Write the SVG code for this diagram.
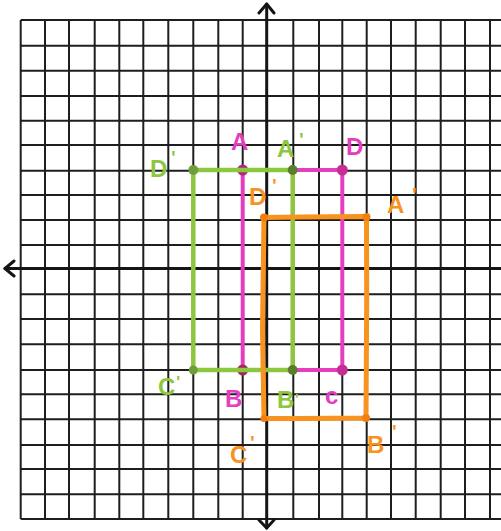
<svg xmlns="http://www.w3.org/2000/svg" width="501" height="531" viewBox="0 0 501 531">
<style>
.grid{stroke:#1e1e1e;stroke-width:2;fill:none}
.axis{stroke:#151515;stroke-width:3;fill:none;stroke-linecap:round;stroke-linejoin:round}
.pk{stroke:#e43dbf;stroke-width:4;fill:none;stroke-linecap:round}
.gr{stroke:#8dc63f;stroke-width:4.5;fill:none;stroke-linecap:round}
.or{stroke:#f7931e;stroke-width:5;fill:none;stroke-linecap:round;stroke-linejoin:round}
.lbl{font-family:"Liberation Sans",Arial,sans-serif;font-weight:bold;font-size:24px}
.lp{fill:#e43dbf}.lg{fill:#8dc63f}.lo{fill:#f7931e}
</style>
<rect width="501" height="531" fill="#ffffff"/>
<g id="grid" class="grid">
<path d="M20.7,20V519 M45,20V519 M69,20V519 M94.7,20V519 M119.3,20V519 M143.3,20V519 M168.3,20V519 M193.3,20V519 M218.3,20V519 M242.7,20V519 M293.3,20V519 M319,20V519 M342.3,20V519 M366.7,20V519 M391,20V519 M415.7,20V519 M440.7,20V519 M465,20V519 M490,20V519"/>
<path d="M20.7,20H501 M20.7,45.7H501 M20.7,70.7H501 M20.7,96H501 M20.7,120.7H501 M20.7,145H501 M20.7,170.7H501 M20.7,195H501 M20.7,220H501 M20.7,245H501 M20.7,294.3H501 M20.7,319H501 M20.7,344.3H501 M20.7,370H501 M20.7,394.3H501 M20.7,419.3H501 M20.7,445H501 M20.7,469H501 M20.7,494.3H501 M20.7,519H501"/>
</g>
<g id="axes" class="axis">
<path d="M266.7,4V528 M5,268.5H501"/>
<path d="M259,13 L266.7,4 L274,13 M14,261 L5,268.5 L14,276 M259,520 L266.7,528 L274,520"/>
</g>
<g id="rect-ABCD">
<rect class="pk" x="242.7" y="170" width="99.6" height="200"/>
<circle cx="242.7" cy="170" r="5.5" fill="#b0287a"/>
<circle cx="342.3" cy="170" r="5.5" fill="#c52f95"/>
<circle cx="242.7" cy="370" r="5.5" fill="#a0285f"/>
<circle cx="342.3" cy="370" r="5.5" fill="#c52f95"/>
</g>
<g id="rect-A1B1C1D1">
<rect class="gr" x="193.3" y="170" width="99.4" height="200"/>
<circle cx="193.3" cy="170" r="5" fill="#6f9d3a"/>
<circle cx="292.7" cy="170" r="5" fill="#5c7d30"/>
<circle cx="193.3" cy="370" r="4.5" fill="#6f9d3a"/>
<circle cx="292.7" cy="370" r="5" fill="#5c7d30"/>
</g>
<g id="rect-A2B2C2D2">
<path class="or" d="M264,217.5 L300,217 L366.5,216.5 L366.7,300 L366,418 L300,418.5 L264,418.5 L262.5,330 Z"/>
<circle cx="264" cy="217.5" r="4" fill="#f07f10"/>
<circle cx="366.5" cy="217" r="4" fill="#f07f10"/>
<circle cx="366" cy="418" r="4" fill="#f07f10"/>
<circle cx="264" cy="418.5" r="3.5" fill="#f07f10"/>
</g>
<g id="labels" class="lbl">
<text class="lp" x="231" y="150">A</text>
<text class="lp" x="346" y="155">D</text>
<text class="lp" x="225" y="407">B</text>
<text class="lp" x="325" y="404">c</text>
<text class="lg" x="150" y="177">D<tspan dx="4" dy="-13" font-size="18">'</tspan></text>
<text class="lg" x="277" y="157">A<tspan dx="5" dy="-11" font-size="18">'</tspan></text>
<text class="lg" x="158" y="395">C<tspan dx="1" dy="-7" font-size="16">'</tspan></text>
<text class="lg" x="277" y="408">B<tspan dx="1" dy="-4" font-size="14">'</tspan></text>
<text class="lo" x="249" y="205">D<tspan dx="6" dy="-13" font-size="18">'</tspan></text>
<text class="lo" x="387" y="213">A<tspan dx="8" dy="-12" font-size="18">'</tspan></text>
<text class="lo" x="230" y="463">C<tspan dx="3" dy="-14" font-size="18">'</tspan></text>
<text class="lo" x="367" y="453">B<tspan dx="8" dy="-15" font-size="18">'</tspan></text>
</g>
</svg>
